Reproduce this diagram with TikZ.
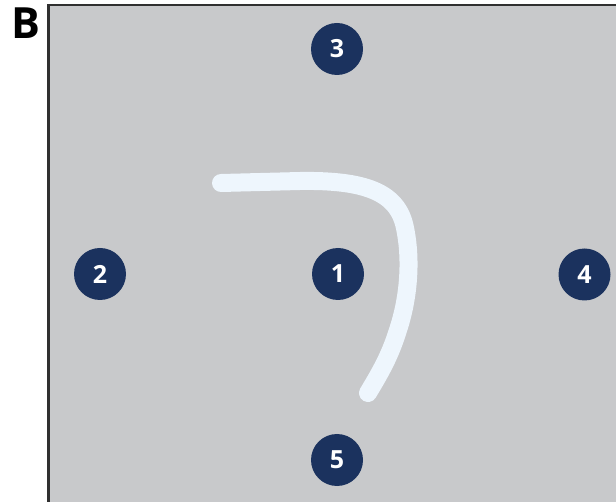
\documentclass[tikz,border=0pt]{standalone}
\usepackage{fontspec}
\setmainfont{Open Sans}
\definecolor{panelgray}{HTML}{C8C9CB}
\definecolor{navy}{HTML}{1B325E}
\definecolor{strokeblue}{HTML}{EEF6FD}
\definecolor{edgegray}{HTML}{303030}
\tikzset{
  numdot/.style={circle, fill=navy, minimum size=52pt, inner sep=0pt, text=white, font=\bfseries\fontsize{25}{25}\selectfont},
  trace/.style={draw=strokeblue, line width=18pt, line cap=round, line join=round},
}
\begin{document}
\begin{tikzpicture}[x=1pt,y=-1pt]
\useasboundingbox (0,0) rectangle (616,502);
\fill[white] (0,0) rectangle (616,502);
\node[font=\bfseries\fontsize{43}{43}\selectfont, anchor=center] (lbl) at (25.5,23) {B};
\draw[fill=panelgray, draw=edgegray, line width=2.5pt] (48.5,5) rectangle (630,515);
\coordinate (s0) at (221,183);
\coordinate (s1) at (300,181);
\coordinate (s2) at (405,228);
\coordinate (s3) at (398,330);
\coordinate (s4) at (368,393);
\draw[trace] (s0) -- (s1) .. controls (365,180) and (398,192) .. (s2)
  .. controls (412,262) and (408,300) .. (s3)
  .. controls (390,356) and (380,373) .. (s4);
\node[numdot] (n1) at (338,274) {1};
\node[numdot] (n2) at (100,274) {2};
\node[numdot] (n3) at (337,49) {3};
\node[numdot] (n4) at (584.5,274.5) {4};
\node[numdot] (n5) at (337,460) {5};
\end{tikzpicture}
\end{document}
